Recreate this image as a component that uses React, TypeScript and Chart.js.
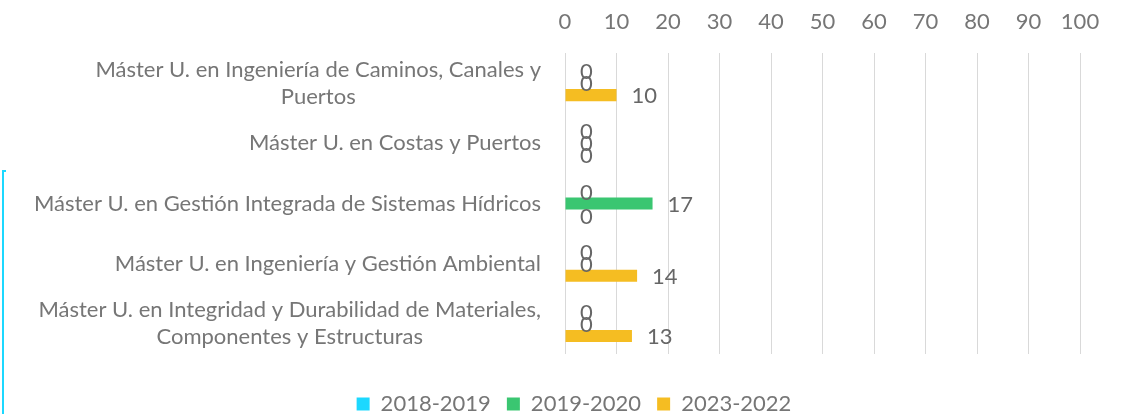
import React, { useEffect, useRef } from 'react';
import { Chart, registerables } from 'chart.js';

Chart.register(...registerables);

// ---- data ----
const categories: string[][] = [
  ['Máster U. en Ingeniería de Caminos, Canales y', 'Puertos'],
  ['Máster U. en Costas y Puertos'],
  ['Máster U. en Gestión Integrada de Sistemas Hídricos'],
  ['Máster U. en Ingeniería y Gestión Ambiental'],
  ['Máster U. en Integridad y Durabilidad de Materiales,', 'Componentes y Estructuras'],
];
const seriesNames: string[] = ['2018-2019', '2019-2020', '2023-2022'];
const values2018_2019: number[] = [0, 0, 0, 0, 0];
const values2019_2020: number[] = [0, 0, 17, 0, 0];
const values2023_2022: number[] = [10, 0, 0, 14, 13];
const xTickMin = 0;
const xTickMax = 100;
const xTickStep = 10;

// ---- styles ----
const seriesColors = ['#1CD8FF', '#3AC671', '#F5BD22'];
const FONT = 'Lato';
const FONT_SIZE = 22;
const TEXT = '#767676';
const LABEL_TEXT = '#666666';

const yLabelPlugin = {
  id: 'yLabelsCentered',
  afterDraw(chart: any) {
    const ctx = chart.ctx;
    const yScale = chart.scales.y;
    ctx.save();
    ctx.font = `${FONT_SIZE}px ${FONT}`;
    ctx.fillStyle = TEXT;
    ctx.textAlign = 'center';
    ctx.textBaseline = 'middle';
    const right = chart.chartArea.left - 24;
    (chart.data.labels as any[]).forEach((lab, i) => {
      const lines: string[] = Array.isArray(lab) ? lab : [String(lab)];
      const w = Math.max(...lines.map((l) => ctx.measureText(l).width));
      const cx = right - w / 2;
      const cy = yScale.getPixelForTick(i);
      lines.forEach((l, j) => {
        ctx.fillText(l, cx, cy + (j - (lines.length - 1) / 2) * 27);
      });
    });
    ctx.restore();
  },
};

const dataLabelPlugin = {
  id: 'barValueLabels',
  afterDatasetsDraw(chart: any) {
    const ctx = chart.ctx;
    ctx.save();
    ctx.font = `${FONT_SIZE}px ${FONT}`;
    ctx.fillStyle = LABEL_TEXT;
    ctx.textAlign = 'left';
    ctx.textBaseline = 'middle';
    chart.data.datasets.forEach((ds: any, di: number) => {
      const meta = chart.getDatasetMeta(di);
      meta.data.forEach((el: any, i: number) => {
        ctx.fillText(String(ds.data[i]), el.x + 15, el.y + 1);
      });
    });
    ctx.restore();
  },
};

const framePlugin = {
  id: 'cyanFrame',
  afterDraw(chart: any) {
    const ctx = chart.ctx;
    ctx.save();
    ctx.strokeStyle = '#1CD8FF';
    ctx.lineWidth = 2;
    ctx.beginPath();
    ctx.moveTo(6, 171);
    ctx.lineTo(3, 171);
    ctx.lineTo(3, 414);
    ctx.stroke();
    ctx.restore();
  },
};

export default function App() {
  const ref = useRef<HTMLCanvasElement | null>(null);
  useEffect(() => {
    if (!ref.current) return;
    const chart = new Chart(ref.current, {
      type: 'bar',
      data: {
        labels: categories,
        datasets: [
          { label: seriesNames[0], data: values2018_2019, backgroundColor: seriesColors[0] },
          { label: seriesNames[1], data: values2019_2020, backgroundColor: seriesColors[1] },
          { label: seriesNames[2], data: values2023_2022, backgroundColor: seriesColors[2] },
        ],
      },
      options: {
        indexAxis: 'y',
        responsive: false,
        animation: false,
        events: [],
        datasets: { bar: { categoryPercentage: 0.6, barPercentage: 1.0, borderWidth: 0 } },
        layout: { padding: { left: 68, right: 45, top: 0, bottom: -11 } },
        scales: {
          x: {
            type: 'linear',
            position: 'top',
            min: xTickMin,
            max: xTickMax,
            ticks: {
              stepSize: xTickStep,
              color: TEXT,
              font: { family: FONT, size: FONT_SIZE },
              padding: 18,
            },
            grid: { color: '#D9D9D9', lineWidth: 1, drawTicks: false },
            border: { display: false },
            afterFit: (s: any) => {
              s.height = 53;
            },
          },
          x2: {
            type: 'linear',
            position: 'bottom',
            display: true,
            grid: { display: false, drawTicks: false },
            border: { display: false },
            ticks: { display: false },
            afterFit: (s: any) => {
              s.height = 23;
            },
          },
          y: {
            type: 'category',
            position: 'left',
            grid: { display: false, drawTicks: false },
            border: { display: false },
            ticks: { display: false },
            afterFit: (s: any) => {
              s.width = 565 - 68;
            },
          },
        },
        plugins: {
          legend: {
            position: 'bottom',
            labels: {
              boxWidth: 13,
              boxHeight: 13,
              padding: 16,
              color: TEXT,
              font: { family: FONT, size: FONT_SIZE },
            },
          },
          tooltip: { enabled: false },
        },
      },
      plugins: [yLabelPlugin, dataLabelPlugin, framePlugin],
    } as any);
    return () => chart.destroy();
  }, []);
  return (
    <div style={{ position: 'absolute', left: 0, top: 0, width: 1125, height: 414, background: '#fff' }}>
      <canvas ref={ref} width={1125} height={414} style={{ display: 'block' }} />
    </div>
  );
}
